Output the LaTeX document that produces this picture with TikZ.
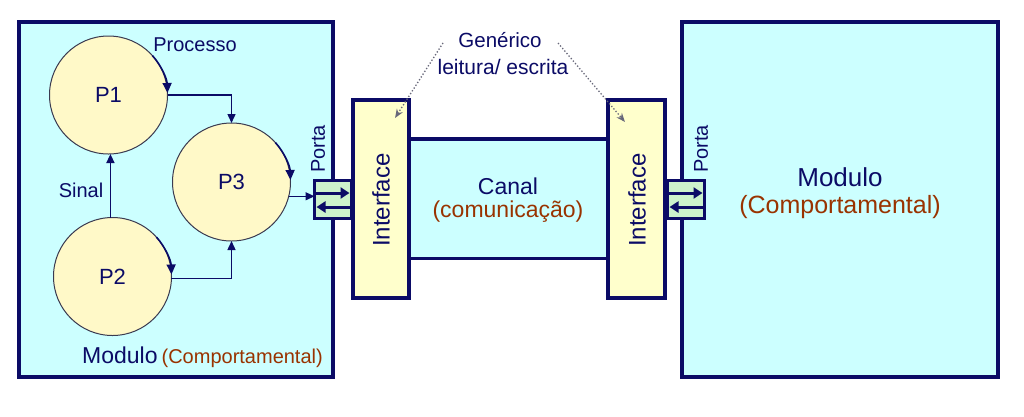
\documentclass[tikz,border=0pt]{standalone}
\usepackage{fontspec}
\setmainfont{Liberation Sans}
\usetikzlibrary{arrows.meta,calc}
\definecolor{navy}{HTML}{0B0B66}
\definecolor{cyanfill}{HTML}{CCFFFF}
\definecolor{ifill}{HTML}{FFFFCC}
\definecolor{cfill}{HTML}{FFF9C8}
\definecolor{pfill}{HTML}{CCF2CC}
\definecolor{brownt}{HTML}{993300}
\definecolor{cborder}{HTML}{3A3A50}
\begin{document}
\begin{tikzpicture}[x=1pt,y=-1pt,
  module/.style={draw=navy,fill=cyanfill,line width=4pt,inner sep=0pt,outer sep=0pt},
  chanbox/.style={fill=cyanfill,inner sep=0pt,outer sep=0pt},
  iface/.style={draw=navy,fill=ifill,line width=4pt,inner sep=0pt,outer sep=0pt},
  portbox/.style={draw=navy,fill=pfill,line width=3pt,inner sep=0pt,outer sep=0pt},
  proc/.style={circle,draw=cborder,fill=cfill,line width=1pt,minimum size=118pt,inner sep=0pt,outer sep=0pt,
    font=\fontsize{22}{26}\selectfont,text=navy},
  conn/.style={draw=navy,line width=1.4pt,-{Triangle[length=9pt,width=8pt]}},
  turn/.style={draw=navy,line width=1.6pt,-{Triangle[length=10pt,width=9pt]}},
  parrow/.style={draw=navy,line width=3pt,-{Triangle[length=9pt,width=11pt]}},
  dotarrow/.style={draw=gray!80!navy,line width=1.3pt,dotted,-{Stealth[length=9pt,width=7pt,fill=navy]}},
  lbl/.style={text=navy,inner sep=0pt,font=\fontsize{20}{24}\selectfont},
  big/.style={inner sep=0pt,font=\fontsize{23}{27}\selectfont}
]
\useasboundingbox (0,0) rectangle (1024,416);
\fill[white] (0,0) rectangle (1024,416);

% modules
\node[module,minimum width=314pt,minimum height=355pt] (ML) at (176,199.5) {};
\node[module,minimum width=316pt,minimum height=355pt] (MR) at (840,199.5) {};

% channel
\node[chanbox,minimum width=199pt,minimum height=119pt] (CH) at (508.5,198.5) {};
\draw[navy,line width=4pt] (CH.north west) -- (CH.north east);
\draw[navy,line width=3pt] (CH.south west) -- (CH.south east);

% interfaces
\node[iface,minimum width=56pt,minimum height=198pt] (IL) at (381,199) {};
\node[iface,minimum width=57pt,minimum height=198pt] (IR) at (636.5,199) {};
\node[rotate=90,big,text=navy,font=\fontsize{24}{28}\selectfont] (ILt) at (381,200) {Interface};
\node[rotate=90,big,text=navy,font=\fontsize{24}{28}\selectfont] (IRt) at (637,200) {Interface};

% ports
\node[portbox,minimum width=37pt,minimum height=38pt] (PL) at (333,199.5) {};
\node[portbox,minimum width=37pt,minimum height=38pt] (PR) at (686,199.5) {};
\draw[parrow] ($(PL.west)+(1.5,-6.5)$) -- ($(PL.east)+(-2,-6.5)$);
\draw[parrow] ($(PL.east)+(-1.5,7.5)$) -- ($(PL.west)+(2,7.5)$);
\draw[parrow] ($(PR.west)+(1.5,-6.5)$) -- ($(PR.east)+(-2,-6.5)$);
\draw[parrow] ($(PR.east)+(-1.5,7.5)$) -- ($(PR.west)+(2,7.5)$);
\node[lbl,rotate=90] (PLt) at (318,149) {Porta};
\node[lbl,rotate=90] (PRt) at (701,149) {Porta};

% processes
\node[proc] (P1) at (108.5,95) {P1};
\node[proc] (P3) at (231.5,182) {P3};
\node[proc] (P2) at (112.5,276.5) {P2};

\draw[turn] ([shift={(-42:59)}]P1.center) arc[start angle=-42,end angle=-2,radius=59];
\draw[turn] ([shift={(-42:59)}]P3.center) arc[start angle=-42,end angle=-2,radius=59];
\draw[turn] ([shift={(-42:59)}]P2.center) arc[start angle=-42,end angle=-2,radius=59];

\draw[conn] (P1.east) -| (P3.north);
\draw[conn] (P2.-2) -| (P3.south);
\draw[conn] (P3.-14) -- (P3.-14 -| PL.west);
\draw[conn] (P2.92) -- (P2.92 |- P1.south);

\node[lbl] (sinal) at (81,190) {Sinal};
\node[lbl] (processo) at (195,45) {Processo};

% left module label
\node[anchor=base west,inner sep=0pt] (MLt) at (82,363)
  {\fontsize{23}{27}\selectfont\color{navy}Modulo\hspace{4pt}\fontsize{20}{24}\selectfont\color{brownt}(Comportamental)};

% right module label
\node[inner sep=0pt,text=navy,font=\fontsize{26}{30}\selectfont] (MRt1) at (840,177) {Modulo};
\node[inner sep=0pt,text=brownt,font=\fontsize{25}{30}\selectfont] (MRt2) at (840,207) {(Comportamental)};

% channel label
\node[big,text=navy] (CHt1) at (508,186) {Canal};
\node[big,text=brownt] (CHt2) at (508,212) {(comunicação)};

% generic label
\node[lbl,font=\fontsize{20.5}{24}\selectfont] (G1) at (500,40) {Genérico};
\node[lbl,font=\fontsize{21}{24}\selectfont] (G2) at (503,67) {leitura/ escrita};
\coordinate (dA1) at (443,43);
\coordinate (dA2) at (395,118);
\coordinate (dB1) at (558,43);
\coordinate (dB2) at (625,122);
\draw[dotarrow] (dA1) -- (dA2);
\draw[dotarrow] (dB1) -- (dB2);
\end{tikzpicture}
\end{document}
